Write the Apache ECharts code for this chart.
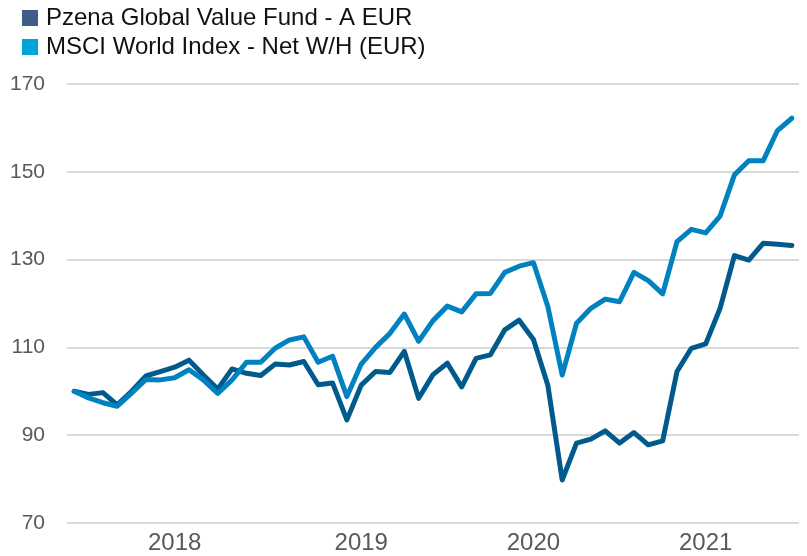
<!DOCTYPE html>
<html>
<head>
<meta charset="utf-8">
<script src="https://cdn.jsdelivr.net/npm/echarts@6/dist/echarts.min.js"></script>
<style>
  html, body { margin: 0; padding: 0; background: #fff; }
  #chart { width: 807px; height: 556px; }
</style>
</head>
<body>
<div id="chart"></div>
<script>
// month-end points, May 2017 .. Jul 2021
const months = [];
for (let y = 2017, m = 5; y < 2021 || (y === 2021 && m <= 7); m++) {
  if (m > 12) { m = 1; y++; }
  months.push(y + "-" + String(m).padStart(2, "0"));
}

const fundName = "Pzena Global Value Fund - A EUR";
const indexName = "MSCI World Index - Net W/H (EUR)";

const fundValues = [
  100.0, 99.3, 99.7, 96.9, 100.0, 103.5, 104.5, 105.5, 107.1, 103.7,
  100.5, 105.1, 104.1, 103.6, 106.2, 106.0, 106.8, 101.5, 101.9, 93.5,
  101.4, 104.5, 104.3, 109.1, 98.4, 103.8, 106.4, 101.0, 107.5, 108.3,
  114.0, 116.2, 111.8, 101.4, 79.8, 88.2, 89.1, 91.0, 88.2, 90.6,
  87.8, 88.7, 104.5, 109.8, 110.8, 118.9, 130.9, 129.9, 133.7, 133.5,
  133.2
];

const indexValues = [
  100.0, 98.5, 97.4, 96.6, 99.6, 102.7, 102.6, 103.1, 104.9, 102.6,
  99.5, 102.6, 106.6, 106.6, 109.8, 111.7, 112.4, 106.6, 108.0, 98.8,
  106.2, 110.0, 113.2, 117.6, 111.4, 116.1, 119.4, 118.1, 122.2, 122.3,
  127.1, 128.5, 129.3, 119.3, 103.7, 115.5, 118.9, 121.0, 120.4, 127.1,
  125.2, 122.2, 134.1, 136.9, 136.1, 139.9, 149.3, 152.5, 152.5, 159.4,
  162.2
];

// where the year labels sit on the axis
const yearTickMonths = ["2017-12", "2019-01", "2020-01", "2021-01"];
const yearTickLabels = ["2018", "2019", "2020", "2021"];

const yTicks = [70, 90, 110, 130, 150, 170];

const font = "'Liberation Sans', Arial, sans-serif";

const chart = echarts.init(document.getElementById("chart"));

chart.setOption({
  animation: false,
  legend: {
    orient: "vertical",
    left: 17,
    top: 1,
    itemWidth: 16,
    itemHeight: 16,
    itemGap: 5,
    icon: "rect",
    textStyle: { fontFamily: font, fontSize: 24, color: "#111", padding: [0, 0, 0, 3] },
    data: [
      { name: fundName, itemStyle: { color: "#3b6083" } },
      { name: indexName, itemStyle: { color: "#00a3da" } }
    ]
  },
  grid: { left: 67, right: 8, top: 84, bottom: 33 },
  xAxis: {
    type: "category",
    data: months,
    boundaryGap: true,
    axisLine: { show: false },
    axisTick: { show: false },
    axisLabel: {
      interval: (idx, val) => yearTickMonths.includes(val),
      formatter: (val) => yearTickLabels[yearTickMonths.indexOf(val)] || "",
      fontFamily: font,
      fontSize: 24,
      color: "#595959",
      margin: 8
    }
  },
  yAxis: {
    type: "value",
    min: yTicks[0],
    max: yTicks[yTicks.length - 1],
    interval: 20,
    axisLine: { show: false },
    axisTick: { show: false },
    axisLabel: { fontFamily: font, fontSize: 21, color: "#595959", margin: 22 },
    splitLine: { lineStyle: { color: "#d9d9d9", width: 2 } }
  },
  series: [
    {
      name: fundName,
      type: "line",
      data: fundValues,
      symbol: "none",
      lineStyle: { color: "#005a8c", width: 5, cap: "round", join: "round" },
      itemStyle: { color: "#005a8c" }
    },
    {
      name: indexName,
      type: "line",
      data: indexValues,
      symbol: "none",
      lineStyle: { color: "#0082c0", width: 5, cap: "round", join: "round" },
      itemStyle: { color: "#0082c0" }
    }
  ]
});
</script>
</body>
</html>
